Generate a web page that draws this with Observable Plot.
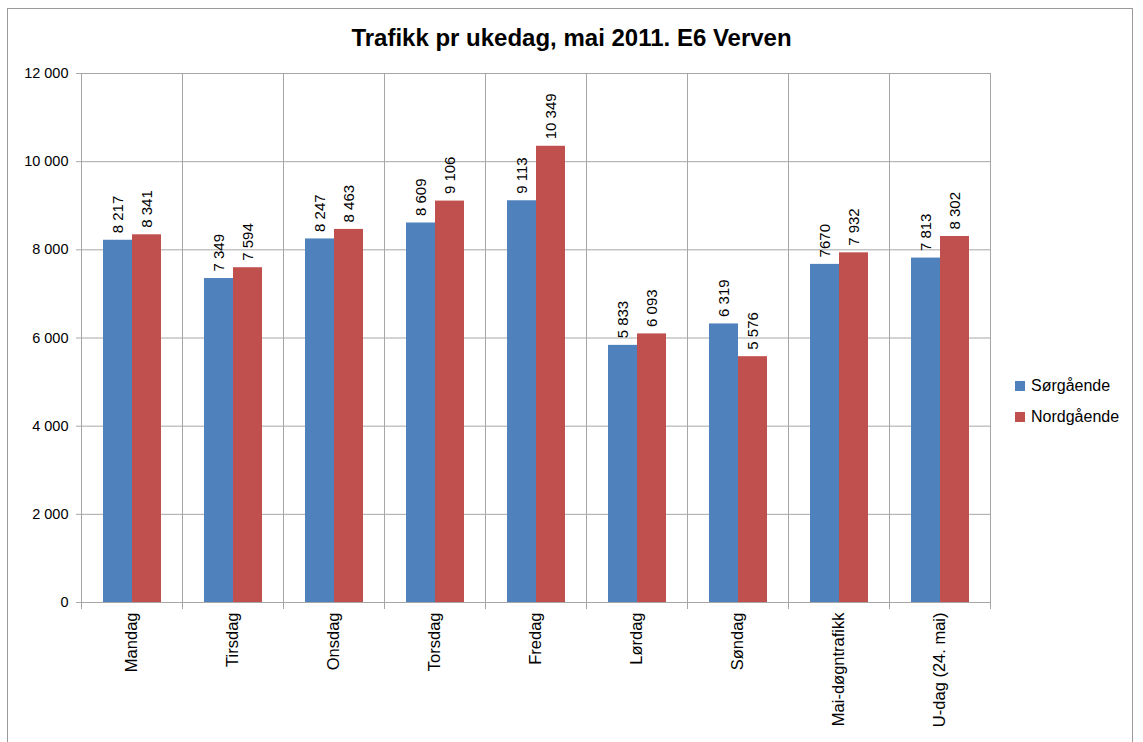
<!DOCTYPE html>
<html>
<head>
<meta charset="utf-8">
<script src="https://cdn.jsdelivr.net/npm/d3@7"></script>
<script src="https://cdn.jsdelivr.net/npm/@observablehq/plot@0.6"></script>
<style>
  html, body { margin: 0; padding: 0; background: #fff; overflow: hidden; width: 1143px; height: 742px; }
  #wrap { position: relative; width: 1143px; height: 742px; font-family: "Liberation Sans", Arial, sans-serif; }
  #border { position: absolute; left: 7px; top: 8px; width: 1126px; height: 760px; border: 1px solid #9a9a9a; box-sizing: border-box; }
  #title { position: absolute; left: 0; width: 1143px; top: 24px; text-align: center; font-weight: bold; font-size: 24px; color: #000; }
  #chart { position: absolute; left: 0; top: 0; }
  #legend { position: absolute; left: 1015px; top: 370px; font-size: 16px; color: #000; }
  .item { display: flex; align-items: center; height: 31px; }
  .sw { width: 10px; height: 10px; margin-right: 6px; }
</style>
</head>
<body>
<div id="wrap">
  <div id="border"></div>
  <div id="chart"></div>
  <div id="title">Trafikk pr ukedag, mai 2011. E6 Verven</div>
  <div id="legend"></div>
</div>
<script>
const categories = ["Mandag", "Tirsdag", "Onsdag", "Torsdag", "Fredag", "Lørdag", "Søndag", "Mai-døgntrafikk", "U-dag (24. mai)"];
const series = ["Sørgående", "Nordgående"];
const sorgaende = [8217, 7349, 8247, 8609, 9113, 5833, 6319, 7670, 7813];
const nordgaende = [8341, 7594, 8463, 9106, 10349, 6093, 5576, 7932, 8302];
const sorLabels = ["8 217", "7 349", "8 247", "8 609", "9 113", "5 833", "6 319", "7670", "7 813"];
const nordLabels = ["8 341", "7 594", "8 463", "9 106", "10 349", "6 093", "5 576", "7 932", "8 302"];
const yTicks = [0, 2000, 4000, 6000, 8000, 10000, 12000];
const colors = ["#4F81BD", "#C0504D"];

const data = categories.flatMap((c, i) => [
  {cat: c, dir: series[0], v: sorgaende[i], label: sorLabels[i]},
  {cat: c, dir: series[1], v: nordgaende[i], label: nordLabels[i]}
]);

const fmt = d => d3.format(",")(d).replace(/,/g, " ");
const grid = "#a6a6a6";

const chart = Plot.plot({
  width: 1143,
  height: 742,
  marginLeft: 80,
  marginTop: 73,
  marginRight: 153,
  marginBottom: 140,
  style: {fontFamily: "'Liberation Sans', Arial, sans-serif", fontSize: "14px", color: "#000", background: "transparent"},
  fx: {domain: categories, padding: 0, label: null, axis: null},
  x: {domain: series, paddingInner: 0, paddingOuter: 0.71, axis: null},
  y: {domain: [0, 12000], label: null},
  color: {domain: series, range: colors},
  marks: [
    Plot.gridY(yTicks, {stroke: grid, strokeOpacity: 1, strokeWidth: 1}),
    Plot.frame({anchor: "left", stroke: grid, strokeWidth: 1, insetBottom: -6}),
    Plot.frame({anchor: "right", stroke: grid, strokeWidth: 1, insetBottom: -6}),
    Plot.barY(data, {fx: "cat", x: "dir", y: "v", fill: "dir"}),
    Plot.text(data, {fx: "cat", x: "dir", y: "v", text: "label", rotate: -90, textAnchor: "start", dy: -7, fontSize: 15, fill: "#000"}),
    Plot.axisY(yTicks, {tickSize: 5, tickPadding: 8, stroke: grid, tickFormat: fmt, fontSize: 14.5, fill: "#000", label: null}),
    Plot.axisFx({anchor: "bottom", tickRotate: -90, tickSize: 0, tickPadding: 10, fontSize: 16.5, fill: "#000", label: null})
  ]
});
document.getElementById("chart").appendChild(chart);

const legend = document.getElementById("legend");
series.forEach((s, i) => {
  const item = document.createElement("div");
  item.className = "item";
  item.innerHTML = `<div class="sw" style="background:${colors[i]}"></div><span>${s}</span>`;
  legend.appendChild(item);
});
</script>
</body>
</html>
